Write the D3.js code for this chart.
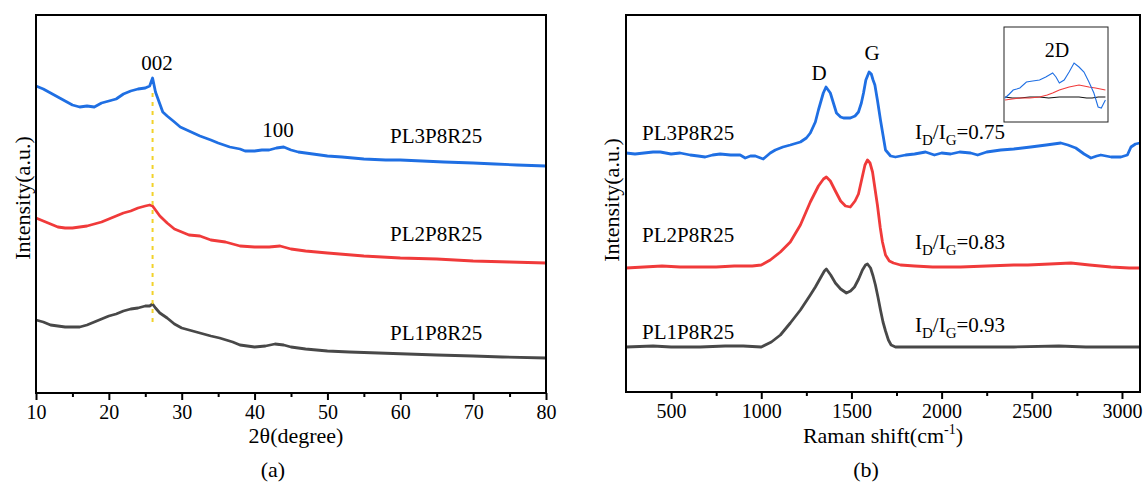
<!DOCTYPE html>
<html>
<head>
<meta charset="utf-8">
<script src="https://cdn.jsdelivr.net/npm/d3@7"></script>
<style>
  body { margin: 0; background: #fff; }
  svg text { font-family: "Liberation Serif", "Times New Roman", serif; fill: #000; }
</style>
</head>
<body>
<svg id="chart" width="1145" height="482"></svg>
<script>
// ---- XRD (a) data: [2theta, intensity a.u.]
const xrdPL3 = [[10,307],[11,304],[12,300],[13,296],[14,292],[15,288],[16,286],[17,287],[18,286],[19,290],[20,292],[21,294],[22,299],[23,302],[24,304],[25,305],[25.6,307],[26.0,315],[26.4,301],[27,289],[27.4,281],[28,277],[29,271],[29.8,266],[31,262],[32.5,257],[34,253],[35,250],[36.6,246],[38,244],[38.7,242],[40,242],[41,243],[42,243],[43,245],[44,246],[45,243],[46,241],[48,239],[50,237],[52,236],[55,234],[58,233],[60,233],[63,232],[66,231],[70,230],[73,229],[76,228],[80,227]];
const xrdPL2 = [[10,175],[11,172],[12,169],[13,166],[14,165],[15,165],[16,166],[17,167],[18,169],[19,171],[20,174],[21,177],[22,180],[23,182],[24,185],[25,187],[25.6,188],[26,187],[26.4,183],[27,177],[28,170],[29,164],[30,161],[31,158],[32.5,157],[34,153],[36,151],[38,147],[40,146],[42,146],[43.5,147],[45,144],[47,142],[50,140],[55,137],[60,135],[65,134],[70,132],[75,131],[80,130]];
const xrdPL1 = [[10,73],[11,71],[12,68],[13,67],[14,66],[15,66],[16,66],[17,68],[18,71],[19,74],[20,77],[21,79],[22,82],[23,84],[24,85],[25,87],[25.6,87],[26,89],[26.4,85],[27,80],[28,75],[29,69],[30,65],[31,63],[32.5,60],[34,57],[35.2,55],[37,51],[38,48],[40,46],[41.5,47],[42.8,49],[44,48],[45,46],[47,44],[50,42],[53,41],[57,40],[61,39],[65,38],[70,37],[74,36],[80,35]];
const xrdTicks = [10, 20, 30, 40, 50, 60, 70, 80];
const xrdMinor = [15, 25, 35, 45, 55, 65, 75];
const xrdPeakLine = [26, 300, 68]; // 2theta, top, bottom intensity

// ---- Raman (b) data: [shift cm-1, intensity a.u.]
const ramanPL3 = [[250,239],[300,238],[350,239],[400,240],[440,240],[500,238],[550,239],[606,237],[650,236],[689,235],[730,237],[772,238],[830,237],[883,237],[911,234],[940,236],[967,236],[1011,233],[1050,239],[1078,242],[1120,245],[1161,247],[1217,250],[1250,254],[1272,259],[1300,270],[1317,282],[1344,299],[1359,305],[1383,299],[1400,289],[1417,279],[1440,275],[1456,274],[1494,274],[1520,276],[1539,280],[1555,289],[1567,299],[1580,312],[1598,320],[1610,318],[1620,312],[1630,307],[1644,292],[1661,272],[1675,257],[1689,242],[1717,236],[1744,235],[1800,237],[1850,238],[1911,240],[1960,237],[2000,239],[2050,238],[2100,240],[2161,239],[2200,237],[2250,240],[2328,242],[2400,243],[2494,245],[2580,247],[2661,249],[2700,247],[2744,244],[2790,238],[2828,234],[2860,236],[2883,237],[2940,235],[2994,235],[3030,237],[3050,245],[3075,248],[3100,249]];
const ramanPL2 = [[250,124],[350,125],[450,126],[550,125],[650,125],[750,125],[850,126],[950,126],[1000,127],[1050,132],[1106,140],[1161,150],[1217,167],[1272,190],[1317,206],[1345,213],[1361,215],[1383,211],[1411,201],[1440,191],[1467,186],[1494,185],[1520,191],[1539,198],[1560,215],[1575,227],[1589,232],[1603,229],[1617,220],[1630,204],[1644,187],[1660,164],[1672,150],[1689,137],[1710,131],[1733,129],[1772,127],[1850,126],[1950,125],[2106,125],[2250,126],[2400,127],[2478,127],[2600,128],[2717,129],[2820,127],[2939,125],[3040,124],[3100,124]];
const ramanPL1 = [[250,45],[400,46],[500,45],[661,45],[800,46],[900,46],[1000,45],[1056,50],[1106,57],[1161,69],[1217,82],[1272,97],[1300,105],[1328,114],[1350,121],[1361,123],[1385,117],[1411,109],[1440,103],[1472,99],[1495,101],[1517,105],[1540,113],[1561,122],[1578,127],[1589,128],[1606,124],[1620,116],[1633,107],[1647,95],[1661,82],[1675,70],[1689,61],[1705,52],[1720,47],[1744,45],[1850,45],[2000,45],[2200,45],[2400,45],[2650,46],[2800,45],[3000,45],[3100,45]];
const ramanTicks = [500, 1000, 1500, 2000, 2500, 3000];
const ramanMinor = [750, 1250, 1750, 2250, 2750];

// inset (2D band)
const insetPL3 = [[2400,24],[2430,28],[2456,32],[2480,33],[2502,34],[2547,40],[2590,41],[2637,42],[2680,45],[2727,49],[2750,45],[2773,39],[2806,42],[2840,50],[2874,59],[2908,55],[2942,50],[2976,40],[3010,29],[3039,15],[3061,14],[3089,22]];
const insetPL2 = [[2400,22],[2450,23],[2502,24],[2570,24],[2637,25],[2690,27],[2727,29],[2773,32],[2840,35],[2908,37],[2976,35],[3021,34],[3089,32]];
const insetPL1 = [[2400,25],[2450,24],[2502,24],[2570,25],[2637,25],[2700,24],[2773,25],[2840,25],[2908,25],[2960,24],[2998,24],[3040,25],[3089,25]];

const colors = { PL3: "#1f6fe3", PL2: "#f03a3a", PL1: "#484848" };

const svg = d3.select("#chart");

function drawPanel(opt) {
    const x = d3.scaleLinear().domain(opt.xDomain).range([opt.left, opt.right]);
    const y = d3.scaleLinear().domain(opt.yDomain).range([opt.bottom, opt.top]);
    const g = svg.append("g");

    // minor ticks
    g.append("g")
        .attr("transform", `translate(0,${opt.bottom})`)
        .call(d3.axisBottom(x).tickValues(opt.minor).tickSize(4).tickFormat(""))
        .call(a => a.select(".domain").remove())
        .call(a => a.selectAll("line").attr("stroke", "#000").attr("stroke-width", 2));
    // major ticks
    g.append("g")
        .attr("transform", `translate(0,${opt.bottom})`)
        .call(d3.axisBottom(x).tickValues(opt.ticks).tickSize(7).tickPadding(5).tickFormat(d3.format("d")))
        .call(a => a.select(".domain").remove())
        .call(a => a.selectAll("line").attr("stroke", "#000").attr("stroke-width", 2))
        .call(a => a.selectAll("text").attr("font-size", 20)
            .attr("font-family", "Liberation Serif, Times New Roman, serif").attr("fill", "#000"));

    const line = d3.line().x(d => x(d[0])).y(d => y(d[1]));
    opt.series.forEach(s => {
        g.append("path")
            .datum(s.data)
            .attr("d", line)
            .attr("fill", "none")
            .attr("stroke", s.color)
            .attr("stroke-width", 2.8)
            .attr("stroke-linejoin", "round");
    });

    g.append("rect")
        .attr("x", opt.left).attr("y", opt.top)
        .attr("width", opt.right - opt.left).attr("height", opt.bottom - opt.top)
        .attr("fill", "none").attr("stroke", "#000").attr("stroke-width", 2);

    return { x, y, g };
}

// ---------- panel (a)
const pa = drawPanel({
    left: 36, right: 546, top: 15, bottom: 393,
    xDomain: [10, 80], yDomain: [0, 378],
    ticks: xrdTicks, minor: xrdMinor,
    series: [
        { data: xrdPL1, color: colors.PL1 },
        { data: xrdPL2, color: colors.PL2 },
        { data: xrdPL3, color: colors.PL3 }
    ]
});

pa.g.append("line")
    .attr("x1", pa.x(xrdPeakLine[0])).attr("x2", pa.x(xrdPeakLine[0]))
    .attr("y1", pa.y(xrdPeakLine[1])).attr("y2", pa.y(xrdPeakLine[2]))
    .attr("stroke", "#f2d22a").attr("stroke-width", 2).attr("stroke-dasharray", "4,5");

const labelsA = [
    { t: "002", x: 157, y: 70, anchor: "middle" },
    { t: "100", x: 278, y: 137, anchor: "middle" },
    { t: "PL3P8R25", x: 390, y: 143, anchor: "start" },
    { t: "PL2P8R25", x: 390, y: 241, anchor: "start" },
    { t: "PL1P8R25", x: 390, y: 340, anchor: "start" }
];
labelsA.forEach(l => svg.append("text").attr("x", l.x).attr("y", l.y)
    .attr("text-anchor", l.anchor).attr("font-size", 21).text(l.t));

svg.append("text").attr("transform", "translate(30,198) rotate(-90)")
    .attr("text-anchor", "middle").attr("font-size", 22).text("Intensity(a.u.)");
svg.append("text").attr("x", 296).attr("y", 443).attr("text-anchor", "middle")
    .attr("font-size", 22).text("2θ(degree)");
svg.append("text").attr("x", 273).attr("y", 477).attr("text-anchor", "middle")
    .attr("font-size", 22).text("(a)");

// ---------- panel (b)
const pb = drawPanel({
    left: 626, right: 1140, top: 15, bottom: 392,
    xDomain: [250, 3100], yDomain: [0, 377],
    ticks: ramanTicks, minor: ramanMinor,
    series: [
        { data: ramanPL1, color: colors.PL1 },
        { data: ramanPL2, color: colors.PL2 },
        { data: ramanPL3, color: colors.PL3 }
    ]
});

const labelsB = [
    { t: "D", x: 819, y: 80, anchor: "middle" },
    { t: "G", x: 872, y: 60, anchor: "middle" },
    { t: "PL3P8R25", x: 642, y: 140, anchor: "start" },
    { t: "PL2P8R25", x: 642, y: 242, anchor: "start" },
    { t: "PL1P8R25", x: 642, y: 339, anchor: "start" }
];
labelsB.forEach(l => svg.append("text").attr("x", l.x).attr("y", l.y)
    .attr("text-anchor", l.anchor).attr("font-size", 21).text(l.t));

const ratios = [["0.75", 139], ["0.83", 249], ["0.93", 332]];
ratios.forEach(r => {
    const t = svg.append("text").attr("x", 915).attr("y", r[1]).attr("font-size", 21);
    t.append("tspan").text("I");
    t.append("tspan").attr("font-size", 15).attr("dy", 6).text("D");
    t.append("tspan").attr("dy", -6).text("/I");
    t.append("tspan").attr("font-size", 15).attr("dy", 6).text("G");
    t.append("tspan").attr("dy", -6).text("=" + r[0]);
});

svg.append("text").attr("transform", "translate(619,200) rotate(-90)")
    .attr("text-anchor", "middle").attr("font-size", 22).text("Intensity(a.u.)");
const xl = svg.append("text").attr("x", 883).attr("y", 443).attr("text-anchor", "middle")
    .attr("font-size", 22);
xl.append("tspan").text("Raman shift(cm");
xl.append("tspan").attr("font-size", 14).attr("dy", -9).text("-1");
xl.append("tspan").attr("dy", 9).text(")");
svg.append("text").attr("x", 866).attr("y", 477).attr("text-anchor", "middle")
    .attr("font-size", 22).text("(b)");

// inset
const ix = d3.scaleLinear().domain([2400, 3100]).range([1005, 1107]);
const iy = d3.scaleLinear().domain([0, 95]).range([122, 27]);
const iline = d3.line().x(d => ix(d[0])).y(d => iy(d[1]));
[[insetPL1, "#111"], [insetPL2, colors.PL2], [insetPL3, colors.PL3]].forEach(s => {
    svg.append("path").datum(s[0]).attr("d", iline)
        .attr("fill", "none").attr("stroke", s[1]).attr("stroke-width", 1.1);
});
svg.append("rect").attr("x", 1004).attr("y", 27).attr("width", 104).attr("height", 95)
    .attr("fill", "none").attr("stroke", "#222").attr("stroke-width", 1);
svg.append("text").attr("x", 1057).attr("y", 57).attr("text-anchor", "middle")
    .attr("font-size", 20).text("2D");
</script>
</body>
</html>
